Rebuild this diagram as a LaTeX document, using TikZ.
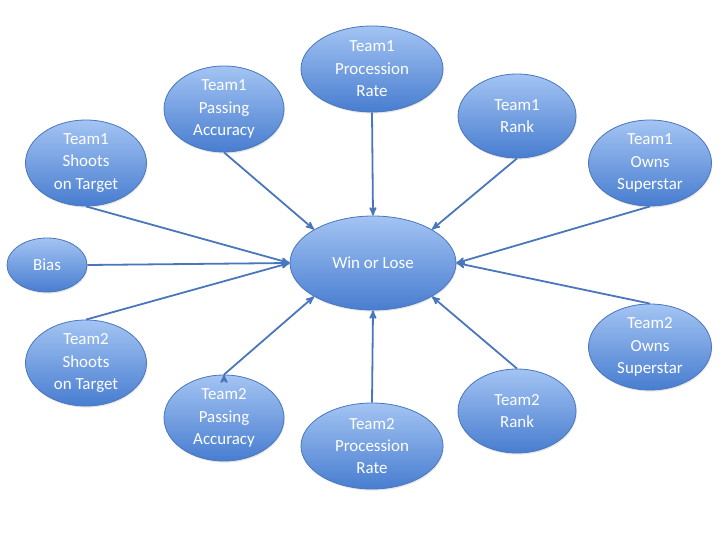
\documentclass[tikz,border=0pt]{standalone}
\usepackage{fontspec}
\setmainfont{Carlito}
\usetikzlibrary{arrows,shapes.geometric,shadows}
\definecolor{fillTop}{RGB}{163,196,243}
\definecolor{fillBot}{RGB}{72,125,208}
\definecolor{edgeBlue}{RGB}{74,118,188}

\begin{document}
\begin{tikzpicture}[x=1bp, y=-1bp,
  factor/.style={ellipse, draw=edgeBlue, line width=0.8bp, top color=fillTop, bottom color=fillBot,
    text=white, align=center, inner sep=0pt, font=\fontsize{17}{22.5}\selectfont,
    drop shadow={opacity=0.2, shadow xshift=0.8bp, shadow yshift=-1.6bp}},
  team/.style={factor, execute at begin node={\rule{0pt}{19bp}}},
  link/.style={-stealth', draw=edgeBlue, line width=1.8bp}]
  \useasboundingbox (0,0) rectangle (720,540);

  \node (win) [factor, minimum width=166bp, minimum height=94bp] at (373,263) {Win or Lose};

  \node (t1rate) [team, minimum width=142bp, minimum height=86bp] at (372,69) {Team1\\Procession\\Rate};
  \node (t1pass) [team, minimum width=120bp, minimum height=86bp] at (224,109) {Team1\\Passing\\Accuracy};
  \node (t1rank) [team, minimum width=118bp, minimum height=84bp] at (517,116) {Team1\\Rank};
  \node (t1shoot) [team, minimum width=121bp, minimum height=86bp] at (86,163) {Team1\\Shoots\\on Target};
  \node (t1star) [team, minimum width=123bp, minimum height=86bp] at (650,163) {Team1\\Owns\\Superstar};
  \node (bias) [factor, minimum width=80bp, minimum height=54bp] at (47,265) {Bias};
  \node (t2shoot) [team, minimum width=121bp, minimum height=86bp] at (86,363) {Team2\\Shoots\\on Target};
  \node (t2pass) [team, minimum width=120bp, minimum height=86bp] at (224,418) {Team2\\Passing\\Accuracy};
  \node (t2rate) [team, minimum width=142bp, minimum height=86bp] at (372,446) {Team2\\Procession\\Rate};
  \node (t2rank) [team, minimum width=118bp, minimum height=84bp] at (517,411) {Team2\\Rank};
  \node (t2star) [team, minimum width=123bp, minimum height=86bp] at (650,347) {Team2\\Owns\\Superstar};

  \path[link]
  (t1shoot.south) edge (win.west)
  (bias.east) edge (win.west)
  (t2shoot.north) edge (win.west)
  (t1pass.south) edge (win.north west)
  (t1rate.south) edge (win.north)
  (t1rank.south) edge (win.north east)
  (t1star.south) edge (win.east)
  (t2star.north) edge (win.east)
  (t2rank.north) edge (win.south east)
  (t2rate.north) edge (win.south)
  (t2pass.north) edge (win.south west)
  ;
\end{tikzpicture}
\end{document}
